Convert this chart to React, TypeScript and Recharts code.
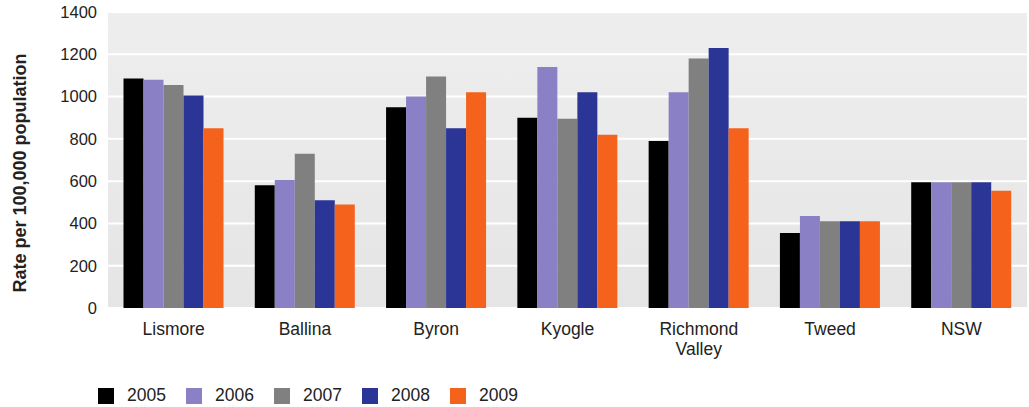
import React from "react";
import {
  BarChart,
  Bar,
  XAxis,
  YAxis,
  CartesianGrid,
  Legend,
} from "recharts";

const categories = [
  "Lismore",
  "Ballina",
  "Byron",
  "Kyogle",
  "Richmond Valley",
  "Tweed",
  "NSW",
];

const rate2005 = [1085, 580, 950, 900, 790, 355, 595];
const rate2006 = [1080, 605, 1000, 1140, 1020, 435, 595];
const rate2007 = [1055, 730, 1095, 895, 1180, 410, 595];
const rate2008 = [1005, 510, 850, 1020, 1230, 410, 595];
const rate2009 = [850, 490, 1020, 820, 850, 410, 555];

const yTicks = [0, 200, 400, 600, 800, 1000, 1200, 1400];

const SERIES = [
  { key: "y2005", name: "2005", color: "#000000" },
  { key: "y2006", name: "2006", color: "#8a80c6" },
  { key: "y2007", name: "2007", color: "#808080" },
  { key: "y2008", name: "2008", color: "#2a3596" },
  { key: "y2009", name: "2009", color: "#f4621c" },
];

const data = categories.map((name, i) => ({
  name,
  y2005: rate2005[i],
  y2006: rate2006[i],
  y2007: rate2007[i],
  y2008: rate2008[i],
  y2009: rate2009[i],
}));

const FONT = "'Liberation Sans', Arial, Helvetica, sans-serif";
const TEXT = "#222222";

const CategoryTick = (props: any) => {
  const { x, y, payload } = props;
  const lines = String(payload.value).split(" ");
  return (
    <text
      x={x}
      y={y + 25}
      textAnchor="middle"
      fill={TEXT}
      fontSize={17.5}
      fontFamily={FONT}
    >
      {lines.map((line, i) => (
        <tspan key={i} x={x} dy={i === 0 ? 0 : 20}>
          {line}
        </tspan>
      ))}
    </text>
  );
};

const YearLegend = () => (
  <div
    style={{
      width: 1029,
      height: 54,
      boxSizing: "border-box",
      paddingTop: 31,
      paddingLeft: 98,
      display: "flex",
      alignItems: "center",
      fontFamily: FONT,
      fontSize: 17.5,
      color: TEXT,
    }}
  >
    {SERIES.map((s) => (
      <div
        key={s.key}
        style={{ display: "flex", alignItems: "center", width: 88, height: 17 }}
      >
        <div
          style={{
            width: 16,
            height: 16,
            background: s.color,
            marginRight: 13,
          }}
        />
        <span style={{ lineHeight: "17px" }}>{s.name}</span>
      </div>
    ))}
  </div>
);

const AxisTitle = () => (
  <text
    x={20}
    y={173}
    transform="rotate(-90 20 173)"
    textAnchor="middle"
    dominantBaseline="central"
    fill={TEXT}
    fontSize={18}
    fontWeight="bold"
    fontFamily={FONT}
  >
    Rate per 100,000 population
  </text>
);

export default function App() {
  return (
    <div
      style={{
        position: "absolute",
        left: 0,
        top: 0,
        width: 1029,
        height: 407,
        background: "#ffffff",
      }}
    >
      <BarChart
        width={1029}
        height={407}
        data={data}
        margin={{ top: 12, right: 2, left: 0, bottom: 0 }}
        barCategoryGap={15.5}
        barGap={0}
      >
        <defs>
          <linearGradient id="plotBg" x1="0" y1="0" x2="0" y2="1">
            <stop offset="0%" stopColor="#eeeeee" />
            <stop offset="100%" stopColor="#e5e5e5" />
          </linearGradient>
        </defs>
        <CartesianGrid
          vertical={false}
          fill="url(#plotBg)"
          fillOpacity={1}
          stroke="#ffffff"
          strokeWidth={2}
        />
        <XAxis
          dataKey="name"
          axisLine={false}
          tickLine={false}
          tickSize={0}
          height={45}
          interval={0}
          tick={<CategoryTick />}
        />
        <YAxis
          domain={[0, 1400]}
          ticks={yTicks}
          width={108}
          axisLine={false}
          tickLine={false}
          tickSize={0}
          tickMargin={11}
          tick={{ fill: TEXT, fontSize: 16.5, fontFamily: FONT }}
          label={{ content: () => <AxisTitle /> }}
        />
        <Legend
          verticalAlign="bottom"
          content={() => <YearLegend />}
          wrapperStyle={{ left: 0, width: 1029 }}
        />
        {SERIES.map((s) => (
          <Bar
            key={s.key}
            dataKey={s.key}
            name={s.name}
            fill={s.color}
            isAnimationActive={false}
          />
        ))}
      </BarChart>
    </div>
  );
}
